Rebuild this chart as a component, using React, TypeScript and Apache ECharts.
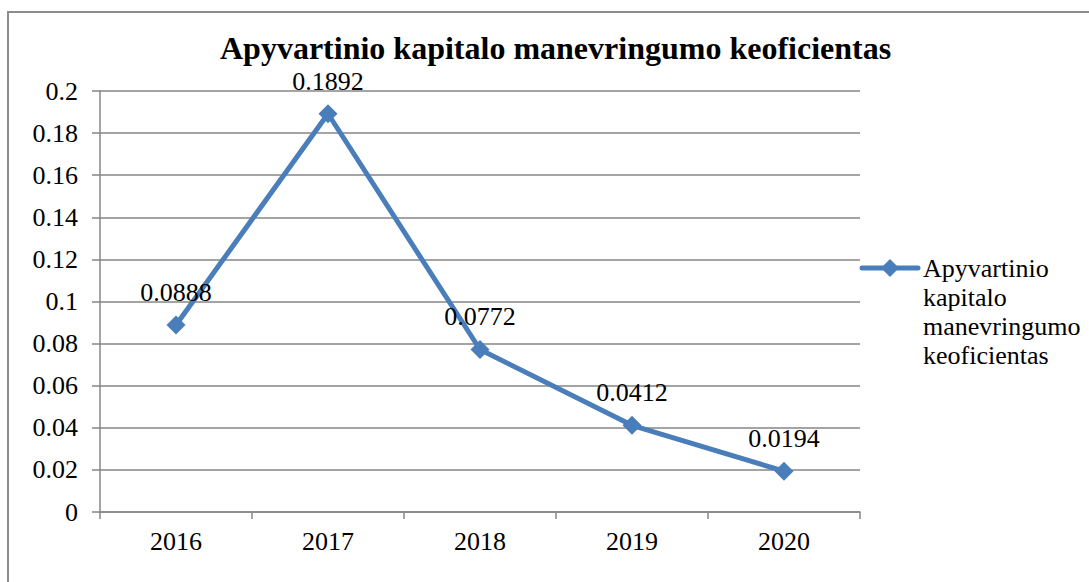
import React, { useEffect, useRef } from "react";
import * as echarts from "echarts";

const TITLE = "Apyvartinio kapitalo manevringumo keoficientas";
const SERIES_NAME = "Apyvartinio kapitalo manevringumo keoficientas";
const LEGEND_LINES = ["Apyvartinio", "kapitalo", "manevringumo", "keoficientas"];
const years = ["2016", "2017", "2018", "2019", "2020"];
const values = [0.0888, 0.1892, 0.0772, 0.0412, 0.0194];
const yMin = 0;
const yMax = 0.2;
const yStep = 0.02;

const FONT = "Liberation Serif";
const GRAY = "#868686";
const BLUE = "#4A7EBB";

export default function App() {
  const ref = useRef<HTMLDivElement>(null);
  useEffect(() => {
    if (!ref.current) return;
    const chart = echarts.init(ref.current, undefined, { renderer: "svg" });
    const lx = 862;
    const ly = 268;
    chart.setOption({
      animation: false,
      backgroundColor: "#ffffff",
      textStyle: { fontFamily: FONT, color: "#000" },
      title: {
        text: TITLE,
        left: 220,
        top: 34,
        padding: 0,
        textStyle: {
          fontFamily: FONT,
          fontWeight: "bold",
          fontSize: 32,
          lineHeight: 28,
          color: "#000",
        },
      },
      graphic: [
        {
          type: "rect",
          shape: { x: 8, y: 12, width: 1200, height: 700 },
          style: { fill: "none", stroke: "#8c8c8c", lineWidth: 2 },
          silent: true,
        },
        {
          type: "line",
          shape: { x1: lx, y1: ly, x2: lx + 56, y2: ly },
          style: { stroke: BLUE, lineWidth: 5, lineCap: "round" },
          silent: true,
        },
        {
          type: "polygon",
          shape: {
            points: [
              [lx + 28, ly - 9],
              [lx + 37, ly],
              [lx + 28, ly + 9],
              [lx + 19, ly],
            ],
          },
          style: { fill: BLUE },
          silent: true,
        },
        {
          type: "text",
          x: lx + 61,
          y: ly - 14.5,
          style: {
            text: LEGEND_LINES.join("\n"),
            fontFamily: FONT,
            fontSize: 26,
            lineHeight: 29,
            fill: "#000",
            verticalAlign: "top",
            align: "left",
          },
          silent: true,
        },
      ],
      grid: { left: 100, right: 229, top: 91, bottom: 70, containLabel: false },
      xAxis: {
        type: "category",
        data: years,
        boundaryGap: true,
        axisLine: { lineStyle: { color: GRAY, width: 1.5 } },
        axisTick: { show: true, length: 7, alignWithLabel: false, lineStyle: { color: GRAY, width: 1.5 } },
        axisLabel: { fontFamily: FONT, fontSize: 26, color: "#000", margin: 16 },
        splitLine: { show: false },
      },
      yAxis: {
        type: "value",
        min: yMin,
        max: yMax,
        interval: yStep,
        axisLine: { show: true, lineStyle: { color: GRAY, width: 1.5 } },
        axisTick: { show: true, length: 8, lineStyle: { color: GRAY, width: 1.5 } },
        axisLabel: {
          fontFamily: FONT,
          fontSize: 26,
          color: "#000",
          margin: 22,
          formatter: (v: number) => String(parseFloat(v.toFixed(4))),
        },
        splitLine: { show: true, lineStyle: { color: GRAY, width: 1.5 } },
      },
      series: [
        {
          name: SERIES_NAME,
          type: "line",
          data: values,
          symbol: "diamond",
          symbolSize: 19,
          color: BLUE,
          lineStyle: { color: BLUE, width: 5 },
          itemStyle: { color: BLUE },
          label: {
            show: true,
            position: "top",
            distance: 11,
            fontFamily: FONT,
            fontSize: 26,
            lineHeight: 24,
            color: "#000",
            formatter: (p: any) => String(p.value),
          },
        },
      ],
    });
    return () => chart.dispose();
  }, []);
  return (
    <div
      ref={ref}
      style={{ position: "fixed", left: 0, top: 0, width: 1089, height: 582, background: "#fff" }}
    />
  );
}
